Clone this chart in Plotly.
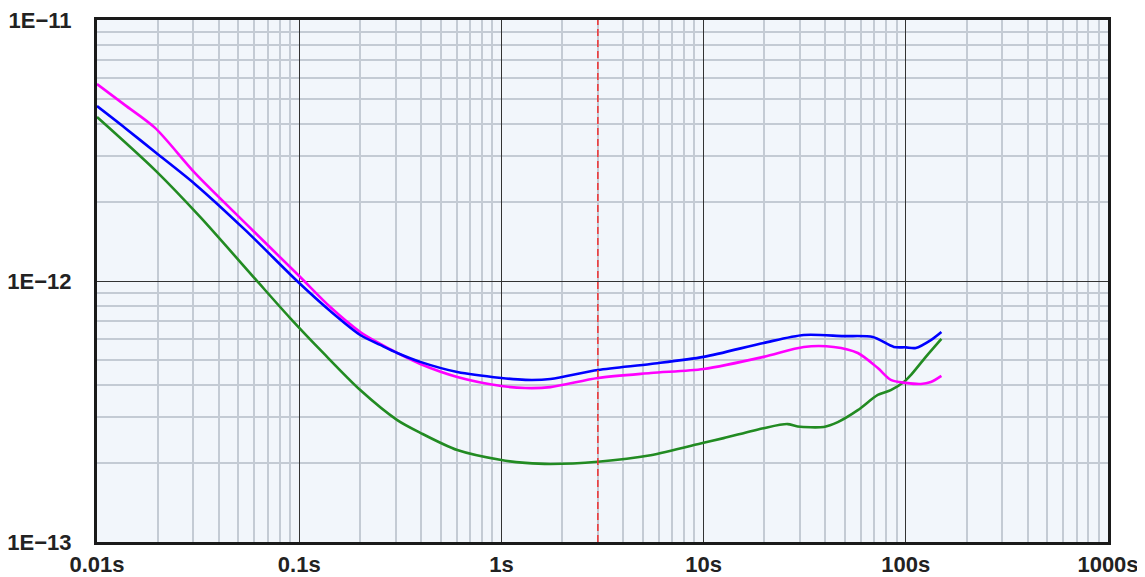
import plotly.graph_objects as go

x_blue = [0.01, 0.01376, 0.01937, 0.03055, 0.054, 0.1, 0.1424, 0.2004, 0.2518, 0.3055, 0.397, 0.605, 1.0, 1.315, 1.748, 3.0, 5.47, 10, 19.8, 31.3, 49.3, 68.7, 87.3, 100, 112, 133, 150]
y_blue = [4.68e-12, 3.86e-12, 3.12e-12, 2.35e-12, 1.57e-12, 9.82e-13, 7.67e-13, 6.21e-13, 5.69e-13, 5.30e-13, 4.90e-13, 4.48e-13, 4.25e-13, 4.18e-13, 4.21e-13, 4.56e-13, 4.81e-13, 5.12e-13, 5.79e-13, 6.21e-13, 6.15e-13, 6.10e-13, 5.59e-13, 5.57e-13, 5.54e-13, 5.94e-13, 6.38e-13]

x_mag = [0.01, 0.01376, 0.01937, 0.03055, 0.054, 0.1, 0.1424, 0.2004, 0.2518, 0.3055, 0.397, 0.605, 1.0, 1.315, 1.748, 3.0, 5.47, 10, 19.8, 31.3, 44.0, 57.9, 72.7, 84.3, 100, 118.7, 133, 150]
y_mag = [5.68e-12, 4.72e-12, 3.86e-12, 2.59e-12, 1.67e-12, 1.045e-12, 7.95e-13, 6.38e-13, 5.74e-13, 5.30e-13, 4.81e-13, 4.29e-13, 3.96e-13, 3.89e-13, 3.92e-13, 4.25e-13, 4.44e-13, 4.60e-13, 5.12e-13, 5.59e-13, 5.59e-13, 5.30e-13, 4.64e-13, 4.18e-13, 4.07e-13, 4.03e-13, 4.10e-13, 4.33e-13]

x_green = [0.01, 0.01937, 0.03236, 0.0606, 0.0902, 0.1315, 0.2004, 0.3055, 0.397, 0.605, 1.0, 1.315, 1.748, 3.0, 5.47, 10, 12.56, 19.8, 26.0, 29.2, 39.3, 46.1, 57.9, 72.7, 84.3, 97.8, 105.9, 125.6, 150]
y_green = [4.25e-12, 2.66e-12, 1.76e-12, 1.018e-12, 7.21e-13, 5.30e-13, 3.82e-13, 2.93e-13, 2.62e-13, 2.25e-13, 2.06e-13, 2.01e-13, 1.99e-13, 2.03e-13, 2.15e-13, 2.40e-13, 2.50e-13, 2.73e-13, 2.83e-13, 2.77e-13, 2.76e-13, 2.88e-13, 3.20e-13, 3.66e-13, 3.82e-13, 4.10e-13, 4.36e-13, 5.12e-13, 6.0e-13]

marker_x = 3.0

x_ticks = [0.01, 0.1, 1, 10, 100, 1000]
x_ticktext = ["0.01s", "0.1s", "1s", "10s", "100s", "1000s"]
y_ticks = [1e-13, 1e-12, 1e-11]
y_ticktext = ["1E\u221213", "1E\u221212", "1E\u221211"]

x_minor = [m * 10 ** e for e in range(-2, 3) for m in range(2, 10)]
y_minor = [m * 10 ** e for e in range(-13, -11) for m in range(2, 10)]

fig = go.Figure()
for xs, ys, col in [(x_green, y_green, "#228B22"), (x_mag, y_mag, "#FF00FF"), (x_blue, y_blue, "#0000FF")]:
    fig.add_trace(go.Scatter(x=xs, y=ys, mode="lines",
                             line=dict(color=col, width=2.6, shape="spline", smoothing=0.8),
                             showlegend=False))

fig.add_shape(type="line", xref="x", yref="paper", x0=marker_x, x1=marker_x, y0=0, y1=1,
              line=dict(color="#F03030", width=1.5, dash="7px,4px"))

tfont = dict(family="Liberation Sans, Arial, sans-serif", size=22, color="#222222", weight="bold")
axis_common = dict(
    showline=True, mirror=True, linecolor="#1a1a1a", linewidth=3,
    showgrid=True, gridcolor="#333333", gridwidth=1.3,
    zeroline=False, ticks="", tickfont=tfont, automargin=False,
    ticklabeloverflow="allow",
)
fig.update_layout(
    width=1137, height=569,
    margin=dict(l=89, r=37, t=12, b=35),
    paper_bgcolor="white", plot_bgcolor="#F2F6FB",
    xaxis=dict(type="log", range=[-2, 3], tickmode="array", tickvals=x_ticks, ticktext=x_ticktext,
               minor=dict(tickvals=x_minor, showgrid=True, gridcolor="#C4CBD4", gridwidth=1.6),
               ticklabelstandoff=1, **axis_common),
    yaxis=dict(type="log", range=[-13, -11], tickmode="array", tickvals=y_ticks, ticktext=y_ticktext,
               minor=dict(tickvals=y_minor, showgrid=True, gridcolor="#C4CBD4", gridwidth=1.6),
               ticklabelstandoff=18, **axis_common),
)

fig.write_html("out.html")
